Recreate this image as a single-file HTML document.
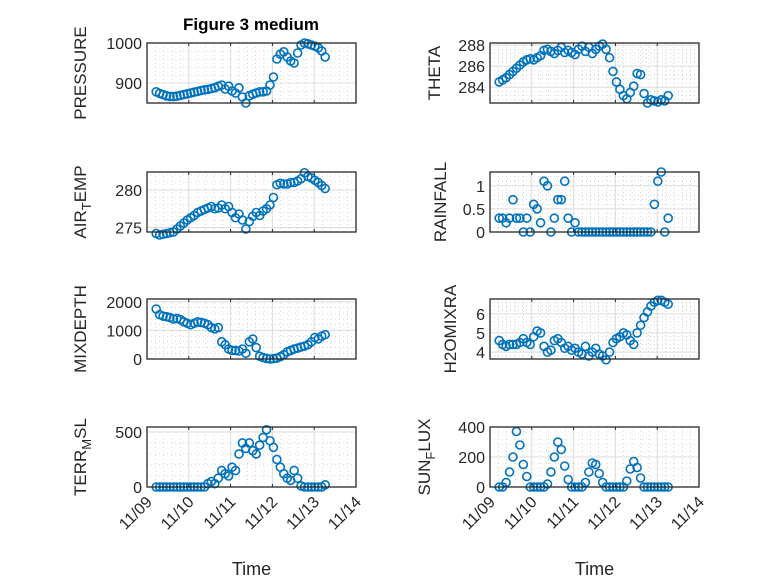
<!DOCTYPE html>
<html><head><meta charset="utf-8"><style>
body{margin:0;background:#fff}
svg text{font-family:"Liberation Sans",sans-serif;fill:#262626}
</style></head><body>
<svg id="fig" width="778" height="583" viewBox="0 0 778 583" xmlns="http://www.w3.org/2000/svg">
<rect width="778" height="583" fill="#fff"/>
<text x="251" y="30" text-anchor="middle" font-size="17" font-weight="bold" style="fill:#000">Figure 3 medium</text>
</svg>
<script>
const xTickLabels = ["11/09","11/10","11/11","11/12","11/13","11/14"];
const t0 = 0.22, dt = 0.0825;
const pressure = [878,874,871,868,866,866,867,869,871,873,875,877,879,881,883,884,886,888,892,895,885,892,880,875,888,865,850,868,872,875,878,878,880,895,915,960,972,978,965,955,950,975,995,1000,998,995,992,988,980,965];
const theta = [284.5,284.7,284.9,285.2,285.5,285.8,286.1,286.4,286.6,286.7,286.6,286.8,287.0,287.5,287.6,287.4,287.2,287.5,287.8,287.3,287.5,287.3,287.1,287.6,287.9,287.4,287.8,287.2,287.6,287.9,288.1,287.6,286.8,285.5,284.5,283.8,283.2,282.9,283.5,284.1,285.3,285.2,283.4,282.5,282.8,282.7,282.6,282.8,282.7,283.2];
const airTemp = [274.2,274.0,274.1,274.2,274.3,274.4,274.8,275.2,275.6,276.0,276.3,276.6,277.0,277.2,277.4,277.6,277.8,277.5,277.6,278.0,277.5,277.8,277.0,276.3,276.8,276.0,274.8,275.8,276.5,277.0,276.6,277.2,277.5,278.0,279.0,280.7,280.9,280.8,280.8,281.0,281.0,281.2,281.5,282.3,281.8,281.6,281.3,281.0,280.6,280.2];
const rainfall = [0.3,0.3,0.2,0.3,0.7,0.3,0.3,0,0.3,0,0.6,0.5,0.2,1.1,1.0,0,0.3,0.7,0.7,1.1,0.3,0,0.2,0,0,0,0,0,0,0,0,0,0,0,0,0,0,0,0,0,0,0,0,0,0,0.6,1.1,1.3,0,0.3];
const mixDepth = [1750,1550,1500,1480,1450,1400,1420,1380,1300,1250,1200,1250,1300,1280,1250,1200,1100,1050,1100,600,500,350,300,300,280,350,200,600,700,400,100,50,20,0,10,30,80,150,250,300,350,380,420,450,500,600,750,700,800,850];
const h2oMix = [4.6,4.4,4.3,4.4,4.4,4.4,4.5,4.7,4.5,4.4,4.8,5.1,5.0,4.3,4.0,4.1,4.6,4.7,4.5,4.2,4.3,4.1,4.2,4.0,3.9,4.3,3.8,4.0,4.2,3.9,3.8,3.6,4.0,4.5,4.7,4.8,5.0,4.9,4.6,4.4,5.0,5.4,5.8,6.1,6.4,6.6,6.7,6.7,6.6,6.5];
const terrMsl = [0,0,0,0,0,0,0,0,0,0,0,0,0,0,0,30,50,30,80,150,120,100,180,150,300,400,350,400,330,300,380,450,520,420,360,250,180,120,80,60,150,80,10,0,0,0,0,0,0,20];
const sunFlux = [0,0,30,100,200,370,280,150,70,0,0,0,0,0,20,100,200,300,250,140,50,0,0,0,0,30,100,160,150,90,30,0,0,0,0,0,0,40,120,170,130,60,0,0,0,0,0,0,0,0];
const pTicks=[900,1000], thTicks=[284,286,288], atTicks=[275,280], rfTicks=[0,0.5,1], mdTicks=[0,1000,2000], h2Ticks=[4,5,6], tmTicks=[0,500], sfTicks=[0,200,400];

const NS="http://www.w3.org/2000/svg";
const svg=document.getElementById('fig');
function el(tag,attrs,parent){const e=document.createElementNS(NS,tag);for(const k in attrs)e.setAttribute(k,attrs[k]);(parent||svg).appendChild(e);return e;}

const panels=[
 {name:'pressure',data:pressure,ticks:pTicks,ylim:[850,1000],x:147,y:43,label:'PRESSURE',lx:86},
 {name:'theta',data:theta,ticks:thTicks,ylim:[282.5,288.2],x:490,y:43,label:'THETA',lx:440},
 {name:'air-temp',data:airTemp,ticks:atTicks,ylim:[274.4,282.4],x:147,y:172,label:'AIR',sub:'T',rest:'EMP',lx:86},
 {name:'rainfall',data:rainfall,ticks:rfTicks,ylim:[0,1.3],x:490,y:172,label:'RAINFALL',lx:446},
 {name:'mixdepth',data:mixDepth,ticks:mdTicks,ylim:[0,2100],x:147,y:299,label:'MIXDEPTH',lx:86},
 {name:'h2omixra',data:h2oMix,ticks:h2Ticks,ylim:[3.64,6.77],x:490,y:299,label:'H2OMIXRA',lx:456},
 {name:'terr-msl',data:terrMsl,ticks:tmTicks,ylim:[0,545],x:147,y:427,label:'TERR',sub:'M',rest:'SL',lx:86,bottom:true},
 {name:'sun-flux',data:sunFlux,ticks:sfTicks,ylim:[0,400],x:490,y:427,label:'SUN',sub:'F',rest:'LUX',lx:430,bottom:true}
];
const W=209,H=60;
panels.forEach(p=>{
 const g=el('g',{});
 
 
 const xs=d=>p.x+d/5*W;
 const ys=v=>p.y+H-(v-p.ylim[0])/(p.ylim[1]-p.ylim[0])*H;
 for(let d=0;d<=5;d+=0.2){el('line',{x1:xs(d),x2:xs(d),y1:p.y,y2:p.y+H,stroke:'#bbb','stroke-width':0.6,'stroke-dasharray':'1,3'},g);}
 const step=p.ticks[1]-p.ticks[0];
 for(let v=p.ticks[0]-step*3;v<=p.ylim[1];v+=step/5){if(v>=p.ylim[0]&&v<=p.ylim[1])el('line',{x1:p.x,x2:p.x+W,y1:ys(v),y2:ys(v),stroke:'#bbb','stroke-width':0.6,'stroke-dasharray':'1,3'},g);}
 for(let d=0;d<=5;d++)el('line',{x1:xs(d),x2:xs(d),y1:p.y,y2:p.y+H,stroke:'#dcdcdc','stroke-width':1},g);
 p.ticks.forEach(v=>{
  el('line',{x1:p.x,x2:p.x+W,y1:ys(v),y2:ys(v),stroke:'#dcdcdc','stroke-width':1},g);
  const t=el('text',{x:p.x-5,y:ys(v)+6,'text-anchor':'end','font-size':16},g);
  
  
  t.textContent=String(v);
 });
 p.data.forEach((v,i)=>{
  const c=el('circle',{cx:xs(t0+i*dt),cy:ys(v),r:4,fill:'none',stroke:'#0072BD','stroke-width':1.6},g);
  
  
 });
 el('rect',{x:p.x,y:p.y,width:W,height:H,fill:'none',stroke:'#262626','stroke-width':1.3},g);
 for(let d=0;d<=5;d++){el('line',{x1:xs(d),x2:xs(d),y1:p.y+H,y2:p.y+H-3,stroke:'#262626'},g);el('line',{x1:xs(d),x2:xs(d),y1:p.y,y2:p.y+3,stroke:'#262626'},g);}
 const cy=p.y+H/2;
 const lab=el('text',{x:p.lx,y:cy,'text-anchor':'middle','font-size':17,transform:`rotate(-90 ${p.lx} ${cy})`},g);
 
 
 if(p.sub){
  const a=el('tspan',{},lab);a.textContent=p.label;
  const b=el('tspan',{dy:5,'font-size':13},lab);b.textContent=p.sub;
  const c=el('tspan',{dy:-5},lab);c.textContent=p.rest;
 } else lab.textContent=p.label;
 if(p.bottom){
  xTickLabels.forEach((s,d)=>{
   const tx=xs(d)+6, ty=p.y+H+16;
   const t=el('text',{x:tx,y:ty,'text-anchor':'end','font-size':16,transform:`rotate(-45 ${tx} ${ty})`},g);
   
   
   t.textContent=s;
  });
  const xl=el('text',{x:p.x+W/2,y:575,'text-anchor':'middle','font-size':18},g);
  
  
  xl.textContent='Time';
 }
});
</script>
</body></html>
